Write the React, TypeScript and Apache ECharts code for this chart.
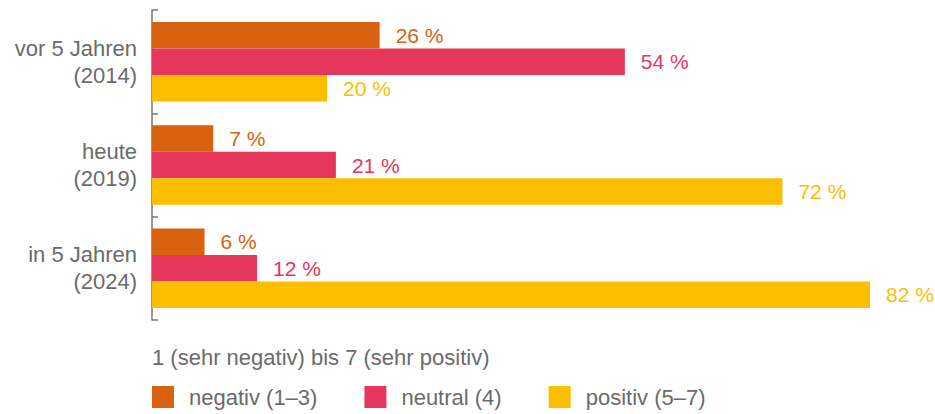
import React, { useEffect, useRef } from "react";
import * as echarts from "echarts";

const categories = ["vor 5 Jahren\n(2014)", "heute\n(2019)", "in 5 Jahren\n(2024)"];
const seriesNames = ["negativ (1–3)", "neutral (4)", "positiv (5–7)"];
const negativ = [26, 7, 6];
const neutral = [54, 21, 12];
const positiv = [20, 72, 82];
const colors = ["#D8620F", "#E7365B", "#FBBE00"];
const legendTitle = "1 (sehr negativ) bis 7 (sehr positiv)";

const FONT = "'Liberation Sans', Arial, sans-serif";
const GRAY = "#6b6b6b";

export default function App() {
  const ref = useRef<HTMLDivElement>(null);
  useEffect(() => {
    if (!ref.current) return;
    const chart = echarts.init(ref.current, null, { renderer: "svg" });
    const values = [negativ, neutral, positiv];
    chart.setOption({
      animation: false,
      textStyle: { fontFamily: FONT },
      title: {
        text: legendTitle,
        left: 152,
        top: 346,
        padding: 0,
        textStyle: { fontSize: 22, fontWeight: "normal", color: GRAY, fontFamily: FONT },
      },
      legend: {
        left: 152,
        top: 386,
        padding: 0,
        itemWidth: 22,
        itemHeight: 22,
        itemGap: 47,
        icon: "rect",
        data: seriesNames,
        textStyle: { fontSize: 22, color: GRAY, fontFamily: FONT, padding: [0, 0, 0, 10] },
      },
      grid: { left: 152, top: 10, width: 718, height: 310, containLabel: false },
      xAxis: {
        type: "value",
        min: 0,
        max: 82,
        show: false,
      },
      yAxis: {
        type: "category",
        data: categories,
        inverse: true,
        axisLine: { show: true, lineStyle: { color: "#777", width: 1.5 } },
        axisTick: { show: true, inside: true, length: 6, lineStyle: { color: "#777", width: 1.5 } },
        axisLabel: {
          fontSize: 22,
          color: GRAY,
          lineHeight: 27,
          margin: 15,
          fontFamily: FONT,
        },
        splitLine: { show: false },
      },
      series: seriesNames.map((name, i) => ({
        name,
        type: "bar",
        data: values[i],
        barWidth: 26.5,
        barGap: "0%",
        itemStyle: { color: colors[i] },
        label: {
          show: true,
          position: "right",
          distance: 16,
          color: colors[i],
          fontSize: 21,
          fontFamily: FONT,
          formatter: "{c} %",
        },
      })),
    });
    return () => chart.dispose();
  }, []);
  return <div ref={ref} style={{ width: 935, height: 414, position: "absolute", left: 0, top: 0 }} />;
}
